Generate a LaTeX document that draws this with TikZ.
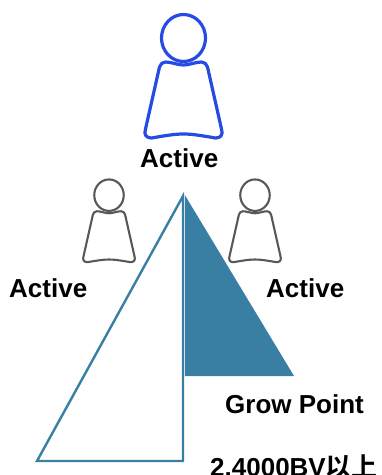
\documentclass[tikz,border=0pt]{standalone}
\usepackage{fontspec}
\setmainfont{Liberation Sans}
\newfontfamily\cjkfont{Noto Sans CJK SC}[BoldFont={* Bold}]
\usetikzlibrary{positioning}
\definecolor{activeblue}{RGB}{38,74,228}
\definecolor{activegray}{RGB}{88,88,88}
\definecolor{pointblue}{RGB}{57,126,163}
\tikzset{
    label/.style={inner sep=0pt, anchor=base west, font=\bfseries\fontsize{26}{30}\selectfont},
    person/.pic={
        \draw (0,1) ellipse (22 and 23.5);
        \draw[line join=round] (0,28) .. controls (-6,28) and (-12,25) .. (-18,25)
            .. controls (-21,25) and (-23,27) .. (-24,30) -- (-38,92)
            .. controls (-40,98) and (-37,101) .. (-32,101)
            .. controls (-20,99) and (-10,97) .. (0,97)
            .. controls (10,97) and (20,99) .. (32,101)
            .. controls (37,101) and (40,98) .. (38,92) -- (24,30)
            .. controls (23,27) and (21,25) .. (18,25)
            .. controls (12,25) and (6,28) .. (0,28) -- cycle;
    }
}
\begin{document}
\begin{tikzpicture}[x=1pt, y=-1pt]
    \useasboundingbox (0,0) rectangle (382,475);
    % people
    \pic[draw=activeblue, line width=3.2pt] at (183.5,37) {person};
    \pic[draw=activegray, line width=2.1pt, scale=0.67] at (109,194.5) {person};
    \pic[draw=activegray, line width=2.1pt, scale=0.67] at (255,194.5) {person};
    % triangles
    \draw[pointblue, line width=2.4pt, line join=miter] (183,196) -- (37,461) -- (183,461) -- cycle;
    \fill[pointblue] (184.8,195) -- (294,376) -- (184.8,376) -- cycle;
    % labels
    \node[label] (activetop) at (140,167) {Active};
    \node[label] (activeleft) at (9,297) {Active};
    \node[label] (activeright) at (266,297) {Active};
    \node[label] (growpoint) at (225,413) {Grow Point};
    \node[label] (bvline) at (210,476) {2.4000BV{\cjkfont 以上}};
\end{tikzpicture}
\end{document}
